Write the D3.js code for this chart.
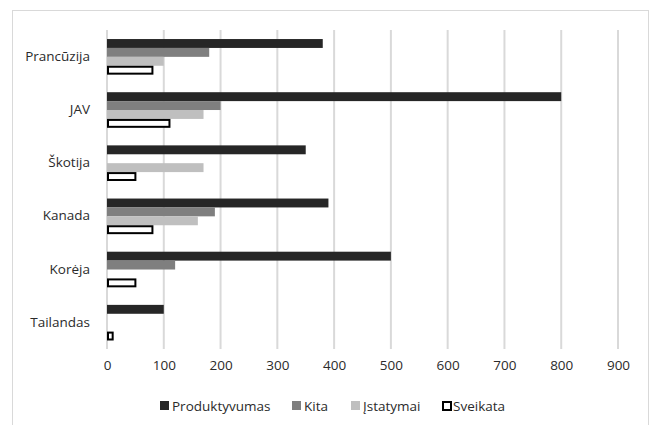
<!DOCTYPE html>
<html>
<head>
<meta charset="utf-8">
<script src="https://cdn.jsdelivr.net/npm/d3@7"></script>
<style>
  html, body { margin: 0; padding: 0; background: #fff; }
  svg { display: block; }
  text { font-family: "Open Sans", Lato, sans-serif; fill: #2b2b2b; }
</style>
</head>
<body>
<svg id="chart" width="650" height="425"></svg>
<script>
// Countries, top to bottom
const categories = ["Prancūzija", "JAV", "Škotija", "Kanada", "Korėja", "Tailandas"];
// Series, in drawing order inside each group
const seriesNames = ["Produktyvumas", "Kita", "Įstatymai", "Sveikata"];
const produktyvumas = [380, 800, 350, 390, 500, 100];
const kita          = [180, 200, 0, 190, 120, 0];
const istatymai     = [100, 170, 170, 160, 0, 0];
const sveikata      = [80, 110, 50, 80, 50, 10];
const xTicks = [0, 100, 200, 300, 400, 500, 600, 700, 800, 900];

const seriesValues = [produktyvumas, kita, istatymai, sveikata];
const fills   = ["#262626", "#7f7f7f", "#bfbfbf", "#ffffff"];
const strokes = [null, null, null, "#000000"];

const FONT = "'Open Sans', Lato, sans-serif";
const FS = 13.5;
const TXT = "#2b2b2b";

const svg = d3.select("#chart");
const W = 650, H = 425;

// chart frame
svg.append("rect")
  .attr("x", 12.5).attr("y", 10.5)
  .attr("width", W - 14).attr("height", H)
  .attr("fill", "#fff").attr("stroke", "#d9d9d9");

const plot = { left: 107, right: 618, top: 30, bottom: 349 };

const x = d3.scaleLinear().domain([0, 900]).range([plot.left, plot.right]);
const y = d3.scaleBand().domain(categories).range([plot.top, plot.bottom]);
const inner = d3.scaleBand().domain(seriesNames)
  .range([y.bandwidth() * 0.17, y.bandwidth() * 0.84]);

// vertical gridlines
svg.append("g").selectAll("line").data(xTicks).join("line")
  .attr("x1", d => x(d)).attr("x2", d => x(d))
  .attr("y1", plot.top).attr("y2", plot.bottom)
  .attr("stroke", "#d9d9d9").attr("stroke-width", 2);

// x tick labels
const xAxis = d3.axisBottom(x).tickValues(xTicks).tickSize(0).tickPadding(0);
const xg = svg.append("g").attr("transform", `translate(0, ${plot.bottom + 14})`).call(xAxis);
xg.select(".domain").remove();
xg.selectAll("text").attr("font-size", FS).attr("fill", TXT)
  .attr("font-family", FONT).attr("dy", "0.5em");

// y category labels
const yAxis = d3.axisLeft(y).tickSize(0).tickPadding(17);
const yg = svg.append("g").attr("transform", `translate(${plot.left}, 0)`).call(yAxis);
yg.select(".domain").remove();
yg.selectAll("text").attr("font-size", FS).attr("fill", TXT)
  .attr("font-family", FONT);

// bars
const groups = svg.append("g").selectAll("g").data(categories).join("g")
  .attr("transform", c => `translate(0, ${y(c)})`);

seriesNames.forEach((s, si) => {
  groups.append("rect")
    .filter((c, ci) => seriesValues[si][ci] > 0)
    .each(function (c) {
      const ci = categories.indexOf(c);
      const v = seriesValues[si][ci];
      const r = d3.select(this);
      if (strokes[si]) {
        r.attr("x", x(0) + 1).attr("y", inner(s) + 1)
          .attr("width", x(v) - x(0) - 1).attr("height", inner.bandwidth() - 2)
          .attr("fill", fills[si]).attr("stroke", strokes[si]).attr("stroke-width", 2);
      } else {
        r.attr("x", x(0)).attr("y", inner(s))
          .attr("width", x(v) - x(0)).attr("height", inner.bandwidth())
          .attr("fill", fills[si]);
      }
    });
});

// legend
const legend = svg.append("g").attr("transform", "translate(0, 406)");
const legendX = [160, 292, 351, 442];
seriesNames.forEach((s, si) => {
  const g = legend.append("g").attr("transform", `translate(${legendX[si]}, 0)`);
  if (strokes[si]) {
    g.append("rect").attr("x", 1).attr("y", -4).attr("width", 8).attr("height", 8)
      .attr("fill", "#fff").attr("stroke", strokes[si]).attr("stroke-width", 2);
  } else {
    g.append("rect").attr("x", 0).attr("y", -5).attr("width", 9).attr("height", 9)
      .attr("fill", fills[si]);
  }
  g.append("text").attr("x", si === 3 ? 11 : 12).attr("y", 0).attr("dy", "0.35em")
    .attr("font-size", FS).attr("font-family", FONT).text(s);
});
</script>
</body>
</html>
